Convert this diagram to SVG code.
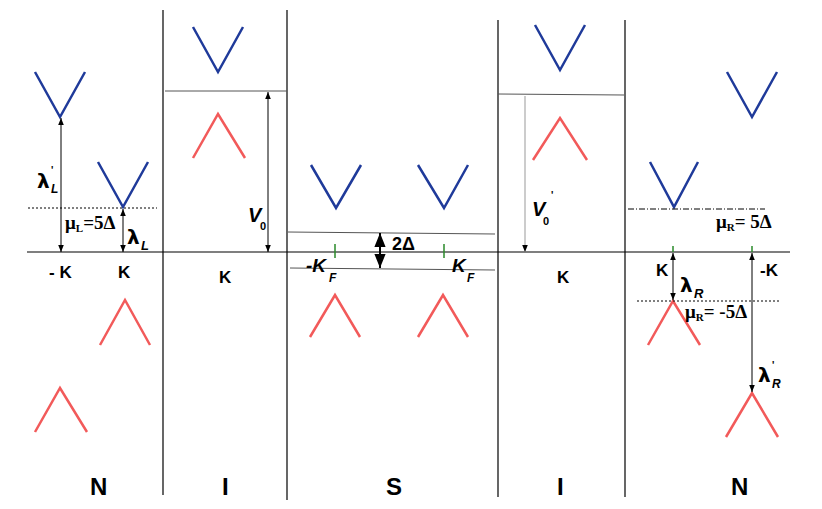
<svg xmlns="http://www.w3.org/2000/svg" width="822" height="509" viewBox="0 0 822 509">
<style>
.b{fill:none;stroke:#1f3a9a;stroke-width:2.5}
.r{fill:none;stroke:#f25a5a;stroke-width:2.5}
.ln{stroke:#000;stroke-width:1.2;fill:none}
.g{stroke:#555;stroke-width:1;fill:none}
.ar{stroke:#000;stroke-width:1;fill:none}
.t{font-family:"Liberation Sans",Arial,sans-serif;font-weight:bold;font-size:17px;fill:#000}
.s{font-family:"Liberation Serif",serif;font-weight:bold;font-size:19px;fill:#000}
.l{font-family:"DejaVu Sans",sans-serif;font-weight:bold;font-size:20px;fill:#000}
.big{font-family:"Liberation Sans",Arial,sans-serif;font-weight:bold;font-size:24px;fill:#000}
.gr{stroke:#2a8a2a;stroke-width:1.5}
</style>
<defs>
<marker id="a" viewBox="0 0 10 10" refX="10" refY="5" markerWidth="7" markerHeight="7" orient="auto-start-reverse"><path d="M0,1 L10,5 L0,9 z" fill="#000"/></marker>
</defs>
<g id="frame">
<line class="ln" x1="27" y1="252" x2="790" y2="252"/>
<line class="ln" x1="163" y1="10" x2="163" y2="495"/>
<line class="ln" x1="287" y1="10" x2="287" y2="500"/>
<line class="ln" x1="498" y1="20" x2="498" y2="497"/>
<line class="ln" x1="625" y1="20" x2="625" y2="497"/>
</g>
<g id="N-left">
<polyline class="b" points="35,72 60,117 85,72"/>
<polyline class="b" points="98,162 123,207 148,162"/>
<polyline class="r" points="100,345 125,300 150,345"/>
<polyline class="r" points="35,432 60,388 87,432"/>
<line x1="28" y1="208" x2="157" y2="208" stroke="#000" stroke-dasharray="2,2"/>
<text class="l" x="37" y="188">λ</text><text class="t" x="51" y="174" style="font-size:10px">'</text><text class="t" x="51" y="193" style="font-size:12px;font-style:italic">L</text>
<text class="s" x="65" y="229">μ<tspan style="font-size:11px" dy="3">L</tspan><tspan dy="-3">=5Δ</tspan></text>
<text class="l" x="127" y="244">λ</text><text class="t" x="141" y="250" style="font-size:13px;font-style:italic">L</text>
<text class="t" x="49" y="278">- K</text>
<text class="t" x="118" y="278">K</text>
</g>
<g id="I-left">
<polyline class="b" points="193,27 218,72 243,27"/>
<polyline class="r" points="193,158 218,114 245,158"/>
<line class="g" x1="165" y1="91" x2="287" y2="91"/>
<text class="t" x="248" y="222" style="font-size:20px;font-style:italic">V</text><text class="t" x="260" y="230" style="font-size:11px">0</text>
<text class="t" x="219" y="283">K</text>
</g>
<g id="S">
<polyline class="b" points="311,165 336,208 361,165"/>
<polyline class="b" points="418,165 444,208 468,165"/>
<polyline class="r" points="310,337 335,295 360,337"/>
<polyline class="r" points="418,337 443,295 468,337"/>
<line class="g" x1="288" y1="232" x2="495" y2="234"/>
<line class="g" x1="290" y1="268" x2="495" y2="270"/>
<line class="gr" x1="335" y1="244" x2="335" y2="258"/>
<line class="gr" x1="444" y1="244" x2="444" y2="258"/>
<text class="t" x="392" y="250" style="font-size:18px">2Δ</text>
<text class="t" x="306" y="272" style="font-size:19px;font-style:italic">-K</text><text class="t" x="329" y="282" style="font-size:12px;font-style:italic">F</text>
<text class="t" x="452" y="272" style="font-size:19px;font-style:italic">K</text><text class="t" x="467" y="282" style="font-size:12px;font-style:italic">F</text>
</g>
<g id="I-right">
<polyline class="b" points="535,25 560,70 585,25"/>
<polyline class="r" points="533,160 560,118 587,160"/>
<line class="g" x1="498" y1="94" x2="624" y2="95"/>
<text class="t" x="532" y="216" style="font-size:20px;font-style:italic">V</text><text class="t" x="543" y="225" style="font-size:11px">0</text><text class="t" x="551" y="199" style="font-size:10px">'</text>
<text class="t" x="557" y="283">K</text>
</g>
<g id="N-right">
<polyline class="b" points="727,72 752,117 777,72"/>
<polyline class="b" points="650,162 674,207 698,162"/>
<polyline class="r" points="648,345 673,301 700,345"/>
<polyline class="r" points="726,437 752,393 778,437"/>
<line x1="628" y1="209" x2="765" y2="209" stroke="#000" stroke-dasharray="6,2,1,2"/>
<line x1="637" y1="301" x2="780" y2="301" stroke="#000" stroke-dasharray="2,2"/>
<line class="gr" x1="673" y1="246" x2="673" y2="252"/>
<line class="gr" x1="752" y1="246" x2="752" y2="252"/>
<text class="s" x="716" y="228">μ<tspan style="font-size:11px" dy="3">R</tspan><tspan dy="-3">= 5Δ</tspan></text>
<text class="t" x="656" y="276">K</text>
<text class="t" x="760" y="276">-K</text>
<text class="l" x="680" y="292">λ</text><text class="t" x="694" y="298" style="font-size:13px;font-style:italic">R</text>
<text class="s" x="685" y="318">μ<tspan style="font-size:11px" dy="3">R</tspan><tspan dy="-3">= -5Δ</tspan></text>
<text class="l" x="758" y="382">λ</text><text class="t" x="772" y="369" style="font-size:10px">'</text><text class="t" x="772" y="388" style="font-size:12px;font-style:italic">R</text>
</g>
<g id="connectors">
<line class="ar" x1="61" y1="118" x2="61" y2="252" marker-start="url(#a)" marker-end="url(#a)"/>
<line class="ar" x1="123" y1="209" x2="123" y2="252" marker-start="url(#a)" marker-end="url(#a)"/>
<line class="ar" x1="268" y1="92" x2="268" y2="252" marker-start="url(#a)" marker-end="url(#a)"/>
<line x1="380" y1="233" x2="380" y2="268" stroke="#000" stroke-width="2" marker-start="url(#a)" marker-end="url(#a)"/>
<line x1="525" y1="96" x2="525" y2="252" stroke="#999" stroke-width="1" marker-end="url(#a)"/>
<line class="ar" x1="673" y1="253" x2="673" y2="300" marker-start="url(#a)" marker-end="url(#a)"/>
<line class="ar" x1="752" y1="253" x2="752" y2="392" marker-start="url(#a)" marker-end="url(#a)"/>
</g>
<g id="regions">
<text class="big" x="90" y="495">N</text>
<text class="big" x="222" y="495">I</text>
<text class="big" x="386" y="495">S</text>
<text class="big" x="557" y="495">I</text>
<text class="big" x="731" y="495">N</text>
</g>
</svg>
